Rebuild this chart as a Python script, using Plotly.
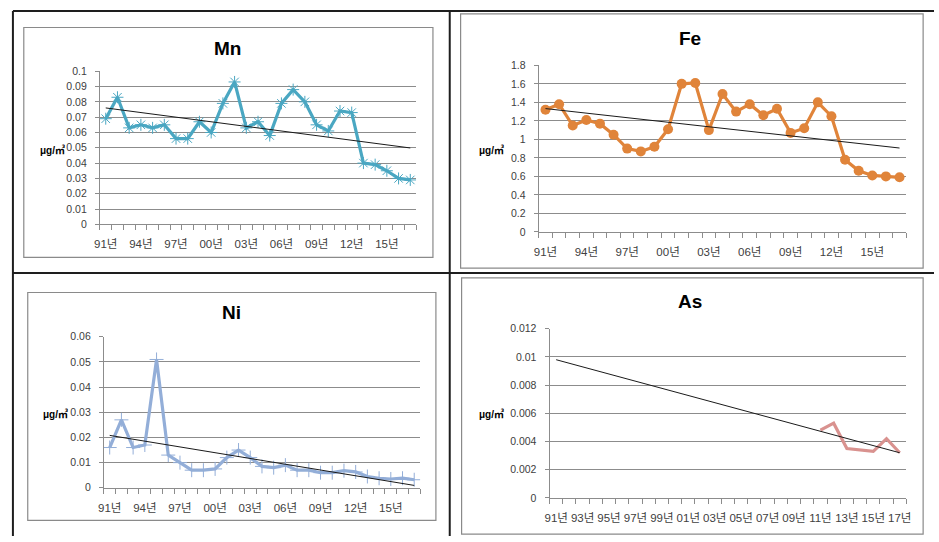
import numpy as np
import plotly.graph_objects as go

W, H = 939, 542

year_labels = ["91년", "92년", "93년", "94년", "95년", "96년", "97년", "98년", "99년",
               "00년", "01년", "02년", "03년", "04년", "05년", "06년", "07년", "08년",
               "09년", "10년", "11년", "12년", "13년", "14년", "15년", "16년", "17년"]

mn_vals = [0.069, 0.083, 0.063, 0.065, 0.063, 0.065, 0.056, 0.056, 0.067, 0.060,
           0.079, 0.093, 0.063, 0.067, 0.058, 0.079, 0.088, 0.080, 0.065, 0.061,
           0.074, 0.073, 0.040, 0.039, 0.035, 0.030, 0.029]
fe_vals = [1.32, 1.38, 1.15, 1.21, 1.17, 1.05, 0.90, 0.87, 0.92, 1.11,
           1.60, 1.61, 1.10, 1.49, 1.30, 1.38, 1.26, 1.33, 1.07, 1.12,
           1.40, 1.25, 0.78, 0.66, 0.61, 0.60, 0.59]
ni_vals = [0.016, 0.027, 0.016, 0.017, 0.051, 0.013, 0.010, 0.007, 0.007, 0.0075,
           0.012, 0.015, 0.012, 0.0085, 0.008, 0.009, 0.007, 0.007, 0.006, 0.006,
           0.0068, 0.0063, 0.0045, 0.0038, 0.0035, 0.0038, 0.0032]
as_years = ["11년", "12년", "13년", "14년", "15년", "16년", "17년"]
as_vals = [0.0048, 0.0053, 0.0035, 0.0034, 0.0033, 0.0042, 0.0032]
as_trend_years = ["91년", "17년"]
as_trend_vals = [0.0098, 0.0032]

mn_ticks = [0, 0.01, 0.02, 0.03, 0.04, 0.05, 0.06, 0.07, 0.08, 0.09, 0.1]
fe_ticks = [0, 0.2, 0.4, 0.6, 0.8, 1, 1.2, 1.4, 1.6, 1.8]
ni_ticks = [0, 0.01, 0.02, 0.03, 0.04, 0.05, 0.06]
as_ticks = [0, 0.002, 0.004, 0.006, 0.008, 0.01, 0.012]

mn_label_years = ["91년", "94년", "97년", "00년", "03년", "06년", "09년", "12년", "15년"]
as_label_years = ["91년", "93년", "95년", "97년", "99년", "01년", "03년", "05년", "07년",
                  "09년", "11년", "13년", "15년", "17년"]

FONT = "Liberation Sans, Noto Sans CJK KR, sans-serif"
GRID = "#8c8c8c"


def px(x):
    return x / W


def py(y):
    return 1 - y / H


idx = list(range(len(year_labels)))


def trend(vals):
    c = np.polyfit(idx, vals, 1)
    return [c[0] * i + c[1] for i in idx]


fig = go.Figure()

panels = [
    dict(name="Mn", xs=idx, ys=mn_vals, color="#4aa7c2",
         marker=dict(symbol="asterisk-open", size=10, line=dict(color="#6cc3da", width=1)),
         ticks=mn_ticks, labels=mn_label_years,
         xd=[px(95), px(415)], yd=[py(223.3), py(66.7)],
         tx=idx, ty=trend(mn_vals),
         title=(224, 43), ylab=(47, 147)),
    dict(name="Fe", xs=idx, ys=fe_vals, color="#e0843a",
         marker=dict(symbol="circle", size=10, color="#e0843a"),
         ticks=fe_ticks, labels=mn_label_years,
         xd=[px(539), px(911)], yd=[py(231), py(60.7)],
         tx=idx, ty=trend(fe_vals),
         title=(692, 33), ylab=(491, 147)),
    dict(name="Ni", xs=idx, ys=ni_vals, color="#93aed8",
         marker=dict(symbol="cross-thin-open", size=10, line=dict(color="#8fa8d4", width=1)),
         ticks=ni_ticks, labels=mn_label_years,
         xd=[px(99), px(419)], yd=[py(492.7), py(338.3)],
         tx=idx, ty=trend(ni_vals),
         title=(228, 313), ylab=(50, 417)),
    dict(name="As", xs=[year_labels.index(y) for y in as_years], ys=as_vals, color="#d9928f",
         marker=None,
         ticks=as_ticks, labels=as_label_years,
         xd=[px(550), px(911)], yd=[py(503), py(330)],
         tx=[year_labels.index(y) for y in as_trend_years], ty=as_trend_vals,
         title=(692, 302), ylab=(491, 417)),
]

layout_axes = {}
annotations = []
for k, p in enumerate(panels, start=1):
    xa = "x" if k == 1 else f"x{k}"
    ya = "y" if k == 1 else f"y{k}"
    mode = "lines+markers" if p["marker"] else "lines"
    tr = dict(x=p["xs"], y=p["ys"], mode=mode, xaxis=xa, yaxis=ya,
              line=dict(color=p["color"], width=3.2), showlegend=False, name=p["name"])
    if p["marker"]:
        tr["marker"] = p["marker"]
    fig.add_trace(go.Scatter(**tr))
    fig.add_trace(go.Scatter(x=p["tx"], y=p["ty"], mode="lines", xaxis=xa, yaxis=ya,
                             line=dict(color="#1a1a1a", width=1), showlegend=False,
                             name=p["name"] + " trend"))
    xkey = "xaxis" if k == 1 else f"xaxis{k}"
    ykey = "yaxis" if k == 1 else f"yaxis{k}"
    layout_axes[xkey] = dict(
        domain=p["xd"], anchor=ya, range=[-0.5, len(year_labels) - 0.5],
        tickmode="array", tickvals=[year_labels.index(l) for l in p["labels"]],
        ticktext=p["labels"], ticks="outside", ticklen=9, tickcolor="rgba(0,0,0,0)",
        showgrid=False, zeroline=False,
        showline=True, linecolor=GRID, linewidth=1,
        tickfont=dict(family=FONT, size=11.5, color="#404040"),
        minor=dict(tickmode="array", tickvals=[i - 0.5 for i in range(len(year_labels) + 1)],
                   ticks="outside", ticklen=5, tickcolor=GRID, tickwidth=1, showgrid=False),
        fixedrange=True,
    )
    layout_axes[ykey] = dict(
        domain=p["yd"], anchor=xa, range=[p["ticks"][0], p["ticks"][-1]],
        tickmode="array", tickvals=p["ticks"], ticktext=[f"{v:g}" for v in p["ticks"]],
        ticks="outside", ticklen=4, tickcolor=GRID, showgrid=True, gridcolor=GRID,
        gridwidth=1, zeroline=False, showline=True, linecolor=GRID, linewidth=1,
        ticklabelstandoff=6,
        tickfont=dict(family=FONT, size=10.5, color="#404040"), fixedrange=True,
    )
    annotations.append(dict(x=px(p["title"][0]), y=py(p["title"][1]), xref="paper", yref="paper",
                            text=f"<b>{p['name']}</b>", showarrow=False, xanchor="center",
                            yanchor="middle", font=dict(family=FONT, size=19, color="#000000")))
    annotations.append(dict(x=px(p["ylab"][0]), y=py(p["ylab"][1]), xref="paper", yref="paper",
                            text="<b>μg/㎥</b>", showarrow=False, xanchor="center",
                            yanchor="middle", font=dict(family=FONT, size=10, color="#000000")))

shapes = []
for (x0, y0, x1, y1) in [(18, 22, 432, 257), (460, 8, 928, 268), (22, 293, 435, 526), (461, 278, 928, 540)]:
    shapes.append(dict(type="rect", xref="paper", yref="paper", x0=px(x0), x1=px(x1),
                       y0=py(y1), y1=py(y0), line=dict(color="#8a8a8a", width=1.2)))
for (x0, y0, x1, y1) in [(7, 5, 939, 5), (7, 273, 939, 273), (7, 5, 7, 542), (449, 5, 449, 542)]:
    shapes.append(dict(type="line", xref="paper", yref="paper", x0=px(x0), x1=px(x1),
                       y0=py(y0), y1=py(y1), line=dict(color="#1e1e1e", width=2)))

fig.update_layout(
    width=W, height=H, autosize=False,
    margin=dict(l=0, r=0, t=0, b=0),
    paper_bgcolor="white", plot_bgcolor="white",
    annotations=annotations, shapes=shapes,
    **layout_axes,
)

fig.write_html(
    "out.html",
    config={"displayModeBar": False, "staticPlot": True},
    post_script="document.body.style.margin='0';document.body.style.overflow='hidden';",
)
